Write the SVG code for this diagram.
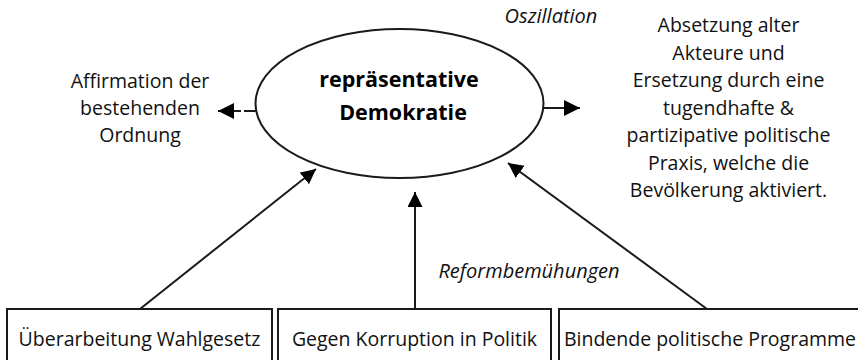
<svg xmlns="http://www.w3.org/2000/svg" width="858" height="360" viewBox="0 0 858 360">
  <style>
    .t { font-family: "Open Sans", "Noto Sans", "Liberation Sans", sans-serif; font-size: 19.5px; fill: #111; text-anchor: middle; }
    .it { font-style: italic; font-size: 20px; }
    .b { font-weight: bold; font-size: 21.5px; fill: #000; }
    .shape { fill: #fff; stroke: #1a1a1a; stroke-width: 2; }
    .conn { stroke: #1a1a1a; stroke-width: 2; fill: none; }
    .dash { stroke-dasharray: 12 3; }
  </style>
  <defs>
    <marker id="arr" markerUnits="userSpaceOnUse" markerWidth="17" markerHeight="17" refX="15" refY="7.5" orient="auto">
      <path d="M0,0 L15,7.5 L0,15 z" fill="#000"/>
    </marker>
    <marker id="arr2" markerUnits="userSpaceOnUse" markerWidth="18" markerHeight="18" refX="16" refY="8" orient="auto">
      <path d="M0,0 L16,8 L0,16 z" fill="#000"/>
    </marker>
  </defs>
  <rect width="858" height="360" fill="#fff"/>

  <g id="node-demokratie">
    <ellipse class="shape" cx="399.5" cy="103.5" rx="144" ry="74.5"/>
    <text class="t b" x="399" y="87">repräsentative</text>
    <text class="t b" x="403" y="120">Demokratie</text>
  </g>

  <g id="node-affirmation">
    <text class="t" x="140" y="88">Affirmation der</text>
    <text class="t" x="140" y="115">bestehenden</text>
    <text class="t" x="140" y="142">Ordnung</text>
  </g>

  <g id="node-absetzung">
    <text class="t" x="728.5" y="32">Absetzung alter</text>
    <text class="t" x="728.5" y="59.5">Akteure und</text>
    <text class="t" x="728.5" y="87">Ersetzung durch eine</text>
    <text class="t" x="728.5" y="114.5">tugendhafte &amp;</text>
    <text class="t" x="728.5" y="142">partizipative politische</text>
    <text class="t" x="728.5" y="169.5">Praxis, welche die</text>
    <text class="t" x="728.5" y="197">Bevölkerung aktiviert.</text>
  </g>

  <g id="label-oszillation">
    <text class="t it" x="551" y="23">Oszillation</text>
  </g>

  <g id="label-reform">
    <text class="t it" x="529" y="278">Reformbemühungen</text>
  </g>

  <g id="node-wahlgesetz">
    <rect class="shape" x="7" y="309" width="265" height="60"/>
    <text class="t" x="139.5" y="346">Überarbeitung Wahlgesetz</text>
  </g>

  <g id="node-korruption">
    <rect class="shape" x="278" y="309" width="273" height="60"/>
    <text class="t" x="414.5" y="346">Gegen Korruption in Politik</text>
  </g>

  <g id="node-programme">
    <rect class="shape" x="559" y="309" width="305" height="60"/>
    <text class="t" x="710" y="346">Bindende politische Programme</text>
  </g>

  <g id="connectors">
    <line class="conn dash" x1="256" y1="111" x2="218" y2="111" marker-end="url(#arr2)"/>
    <line class="conn" x1="543" y1="108" x2="580" y2="108" marker-end="url(#arr2)"/>
    <line class="conn" x1="140" y1="309" x2="316" y2="169" marker-end="url(#arr)"/>
    <line class="conn" x1="415" y1="309" x2="415" y2="192" marker-end="url(#arr)"/>
    <line class="conn" x1="707" y1="309" x2="508" y2="163" marker-end="url(#arr)"/>
  </g>
</svg>
